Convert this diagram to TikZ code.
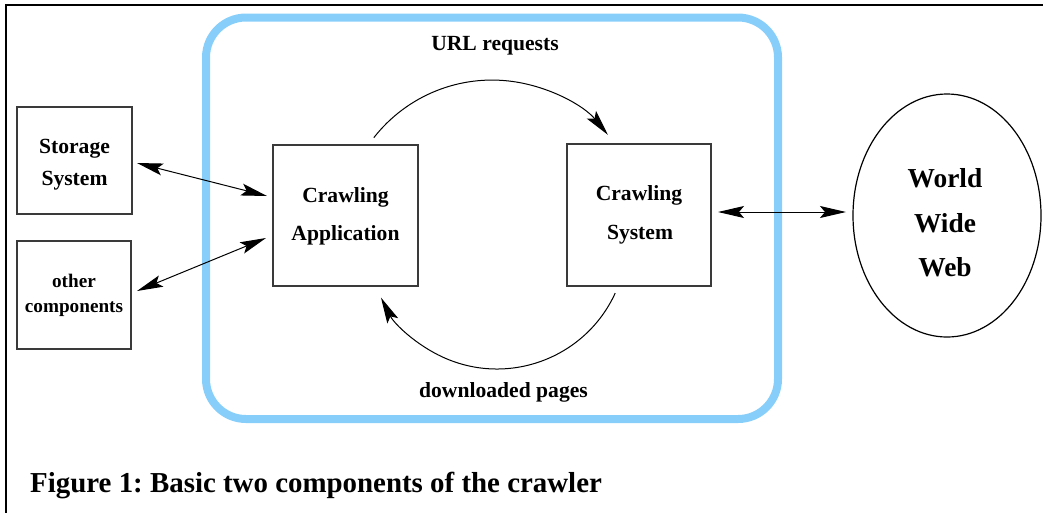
\documentclass[tikz,border=0pt]{standalone}
\usepackage{fontspec}
\setmainfont{Liberation Serif}
\usetikzlibrary{arrows.meta,shapes.geometric}
\definecolor{skyblue}{HTML}{87CEFA}
\definecolor{boxgray}{HTML}{3A3A3A}
\frenchspacing
\tikzset{
  box/.style={draw=boxgray, line width=1.3pt, rectangle, inner sep=0pt, outer sep=0pt},
  lbl/.style={font=\bfseries\fontsize{21.6}{26}\selectfont, inner sep=0pt, anchor=base},
  small/.style={font=\bfseries\fontsize{19.2}{23}\selectfont, inner sep=0pt, anchor=base},
  big/.style={font=\bfseries\fontsize{27.4}{32}\selectfont, inner sep=0pt, anchor=base},
  arr/.style={line width=1pt, -{Stealth[length=26pt,width=12pt,inset=5pt]}},
  darr/.style={line width=1pt, {Stealth[length=26pt,width=12pt,inset=5pt]}-{Stealth[length=26pt,width=12pt,inset=5pt]}},
}
\begin{document}
\begin{tikzpicture}[x=1pt,y=1pt]
\clip (0,0) rectangle (1043,-512);
% outer frame
\draw[line width=2.3pt] (6,-530) -- (6,-4.7) -- (1060,-4.7);
% core frame
\node[draw=skyblue, line width=8pt, rounded corners=40pt, minimum width=572pt, minimum height=401.5pt, inner sep=0pt] (core) at (492,-218.25) {};
% boxes
\node[box, minimum width=115pt, minimum height=107pt] (stor) at (74.5,-160.5) {};
\node[box, minimum width=114pt, minimum height=108pt] (other) at (74,-295) {};
\node[box, minimum width=145pt, minimum height=141pt] (app) at (345.5,-215.5) {};
\node[box, minimum width=144pt, minimum height=142pt] (cs) at (639,-215) {};
\node[draw=black, line width=1.2pt, ellipse, minimum width=188pt, minimum height=243pt, inner sep=0pt] (www) at (947,-215.5) {};
% texts
\node[lbl] (t1) at (74.5,-153) {Storage};
\node[lbl] (t2) at (74.5,-185) {System};
\node[small] (t3) at (74,-287.3) {other};
\node[small] (t4) at (74,-312.7) {components};
\node[lbl] (t5) at (345.5,-202.7) {Crawling};
\node[lbl] (t6) at (345.5,-240) {Application};
\node[lbl] (t7) at (639,-200) {Crawling};
\node[lbl] (t8) at (640,-239.3) {System};
\node[big] (t9) at (945,-187.7) {World};
\node[big] (t10) at (945,-232.2) {Wide};
\node[big] (t11) at (945,-276.7) {Web};
\node[lbl] (url) at (495,-50) {URL requests};
\node[lbl] (dl) at (503.5,-397.7) {downloaded pages};
\node[font=\bfseries\fontsize{28.9}{34}\selectfont, inner sep=0pt, anchor=base west] (cap) at (30,-492) {Figure 1: Basic two components of the crawler};
% connector end points
\coordinate (s1) at (137,-163);
\coordinate (s2) at (267,-196);
\coordinate (o1) at (137,-291);
\coordinate (o2) at (266,-238);
\coordinate (w1) at (718,-212);
\coordinate (w2) at (846,-212);
\coordinate (u1) at (373.8,-137.7);
\coordinate (d1) at (615.2,-293.1);
% connectors
\draw[darr] (s1) -- (s2);
\draw[darr] (o1) -- (o2);
\draw[darr] (w1) -- (w2);
\draw[arr] (u1) arc[start angle=142, end angle=39.4, radius=150pt];
\draw[arr] (d1) arc[start angle=-24.6, end angle=-153.2, radius=130pt];
\end{tikzpicture}
\end{document}
